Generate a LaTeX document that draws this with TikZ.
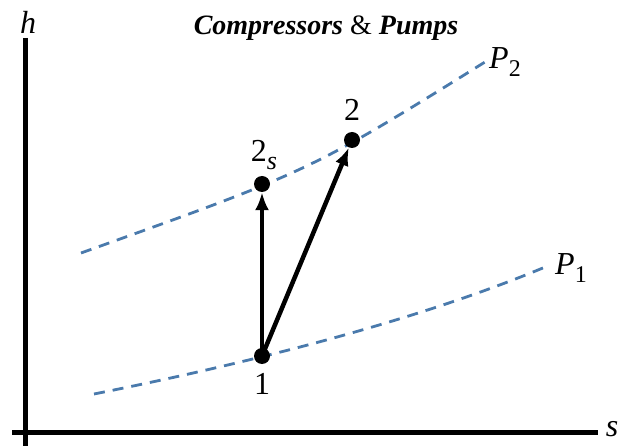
\documentclass[tikz,border=0pt]{standalone}
\usepackage{fontspec}
\setmainfont{Liberation Serif}
\usetikzlibrary{arrows.meta}
\definecolor{curveblue}{RGB}{74,122,172}
\tikzset{
  axis/.style={line width=5pt},
  isobar/.style={curveblue, line width=2.8pt, dash pattern=on 11pt off 8pt},
  statept/.style={circle, fill=black, inner sep=0pt, minimum size=16pt},
  proc/.style={line width=4.5pt, -{Latex[length=18pt,width=14pt]}},
  lbl/.style={font=\fontsize{32}{32}\selectfont, inner sep=0pt},
}
\begin{document}
\begin{tikzpicture}[x=1pt,y=-1pt]
\useasboundingbox (0,0) rectangle (629,446);
% axes
\coordinate (ytop) at (25,38);
\coordinate (ybot) at (25,446);
\coordinate (xl) at (12,432);
\coordinate (xr) at (598,432);
\draw[axis] (ytop) -- (ybot);
\draw[axis] (xl) -- (xr);
\node[lbl] (hlab) at (28,22) {\textit{h}};
\node[lbl] (slab) at (612,429) {\textit{s}};
% title
\node[inner sep=0pt, font=\fontsize{28}{28}\selectfont] (title) at (326,28) {\textbf{\textit{Compressors}} \& \textbf{\textit{Pumps}}};
% isobars
\coordinate (p2a) at (81,253);
\coordinate (p2b) at (485,62);
\coordinate (p1a) at (94,394);
\coordinate (p1b) at (550,265);
\draw[isobar] (p2a) .. controls (310,171) .. (p2b);
\draw[isobar] (p1a) .. controls (250,363) and (420,320) .. (p1b);
\node[lbl, anchor=west] (P2) at (489,62) {\textit{P}\raisebox{-0.25em}{\fontsize{24}{24}\selectfont 2}};
\node[lbl, anchor=west] (P1) at (555,268) {\textit{P}\raisebox{-0.25em}{\fontsize{24}{24}\selectfont 1}};
% states
\node[statept] (s1) at (262,356) {};
\node[statept] (s2s) at (262,184) {};
\node[statept] (s2) at (352,140) {};
\node[lbl] (l1) at (262,384) {1};
\node[lbl] (l2s) at (264,155) {2\raisebox{-0.25em}{\fontsize{26}{26}\selectfont\textit{s}}};
\node[lbl] (l2) at (352,110) {2};
% processes
\draw[proc] (s1.center) -- (s2s);
\draw[proc] (s1.center) -- (s2);
\end{tikzpicture}
\end{document}
